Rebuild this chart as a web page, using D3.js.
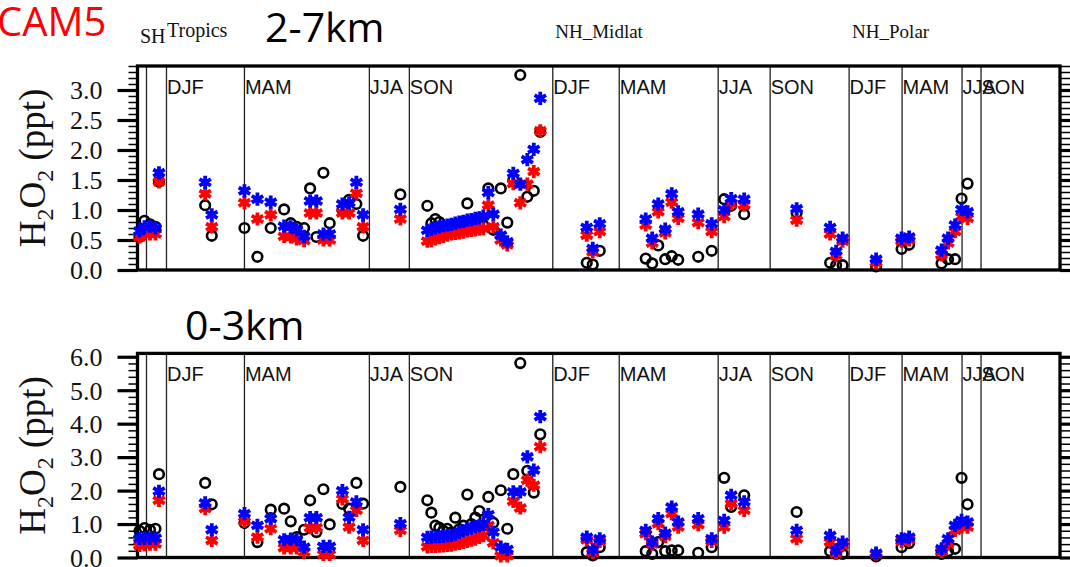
<!DOCTYPE html>
<html>
<head>
<meta charset="utf-8">
<script src="https://cdn.jsdelivr.net/npm/d3@7"></script>
<style>
  body { margin: 0; background: #fff; }
  svg { display: block; }
</style>
</head>
<body>
<svg id="chart" width="1070" height="567"></svg>
<script>
// Sample positions along the flight-sequence axis
const sampleX = [
  0.2, 0.7, 1.25, 1.8, 2.15, 6.77, 7.43, 10.7, 12.0, 13.33, 14.67, 15.33, 15.93, 16.67,
  17.27, 17.9, 18.6, 19.23, 20.5, 21.17, 21.9, 22.57, 26.3,
  29.0, 29.4, 29.8, 30.2, 30.6, 31.0, 31.4, 31.8, 32.2, 32.6, 33.0, 33.4, 33.8, 34.2, 34.6,
  35.1, 35.6, 36.35, 37.0, 37.6, 38.3, 39.0, 39.65, 40.3,
  44.95, 45.55, 46.25,
  50.85, 51.5, 52.1, 52.8, 53.45, 54.1, 56.1, 57.45,
  58.7, 59.4, 60.7,
  65.95, 69.3, 69.9, 70.55,
  73.9,
  76.45, 77.2, 80.45, 81.1, 81.8, 82.45, 83.05
];

// 2-7 km H2O2 (ppt)
const obsUpper = [
  0.55, 0.82, 0.76, 0.72, 1.47, 1.08, 0.57, 0.70, 0.22, 0.70, 1.01, 0.78, 0.72, 0.70,
  1.36, 0.55, 1.62, 0.78, 1.00, 1.17, 1.10, 0.57, 1.26,
  1.07, 0.78, 0.85, 0.80, 0.72, 0.70, 0.74, 0.73, 0.76, 0.80, 1.11, 0.78, 0.80, 0.79, 0.75,
  1.36, 0.67, 1.36, 0.79, 1.50, 3.25, 1.22, 1.32, 2.30,
  0.12, 0.09, 0.32,
  0.19, 0.11, 0.41, 0.18, 0.23, 0.17, 0.22, 0.32,
  1.18, 1.07, 0.93,
  0.95, 0.12, 0.08, 0.08,
  0.06,
  0.35, 0.42, 0.11, 0.18, 0.18, 1.19, 1.44
];
const redUpper = [
  0.55, 0.60, 0.60, 0.60, 1.47, 1.27, 0.72, 1.12, 0.85, 0.92, 0.56, 0.55, 0.52, 0.49,
  0.95, 0.95, 0.50, 0.50, 0.95, 0.95, 1.28, 0.72, 0.85,
  0.48, 0.49, 0.52, 0.54, 0.56, 0.58, 0.60, 0.61, 0.62, 0.63, 0.65, 0.66, 0.67, 0.68, 0.69,
  1.08, 0.72, 0.50, 0.42, 1.44, 1.12, 1.43, 1.64, 2.32,
  0.58, 0.30, 0.64,
  0.75, 0.45, 0.97, 0.62, 1.13, 0.86, 0.79, 0.64,
  0.89, 1.10, 1.08,
  0.83, 0.60, 0.24, 0.48,
  0.12,
  0.48, 0.50, 0.25, 0.45, 0.64, 0.89, 0.86
];
const blueUpper = [
  0.65, 0.72, 0.73, 0.70, 1.62, 1.46, 0.92, 1.32, 1.18, 1.13, 0.73, 0.72, 0.67, 0.56,
  1.15, 1.15, 0.60, 0.60, 1.10, 1.12, 1.46, 0.92, 1.01,
  0.66, 0.68, 0.70, 0.72, 0.74, 0.75, 0.76, 0.78, 0.80, 0.81, 0.83, 0.84, 0.86, 0.87, 0.90,
  1.29, 0.93, 0.58, 0.47, 1.61, 1.43, 1.84, 2.01, 2.86,
  0.71, 0.36, 0.77,
  0.85, 0.53, 1.10, 0.68, 1.27, 0.97, 0.93, 0.77,
  1.00, 1.19, 1.18,
  1.02, 0.71, 0.31, 0.53,
  0.18,
  0.53, 0.55, 0.33, 0.53, 0.75, 1.01, 0.97
];

// 0-3 km H2O2 (ppt)
const obsLower = [
  0.80, 0.88, 0.83, 0.86, 2.49, 2.23, 1.59, 1.03, 0.46, 1.43, 1.46, 1.08, 0.61, 0.83,
  1.71, 0.76, 2.04, 0.99, 1.60, 1.46, 2.23, 1.61, 2.11,
  1.71, 1.34, 0.95, 0.89, 0.80, 0.86, 0.75, 1.19, 0.85, 0.95, 1.88, 1.00, 1.19, 1.39, 0.95,
  1.81, 1.04, 2.01, 0.86, 2.49, 5.81, 2.59, 1.94, 3.68,
  0.16, 0.06, 0.31,
  0.19, 0.11, 0.46, 0.19, 0.21, 0.21, 0.14, 0.31,
  2.38, 1.51, 1.86,
  1.36, 0.19, 0.11, 0.11,
  0.03,
  0.31, 0.43, 0.11, 0.19, 0.26, 2.38, 1.59
];
const redLower = [
  0.36, 0.38, 0.40, 0.40, 1.71, 1.46, 0.51, 1.08, 0.61, 0.86, 0.29, 0.29, 0.29, 0.16,
  0.89, 0.89, 0.09, 0.09, 1.75, 0.91, 1.41, 0.51, 0.81,
  0.32, 0.33, 0.33, 0.34, 0.35, 0.36, 0.37, 0.40, 0.42, 0.45, 0.48, 0.52, 0.55, 0.60, 0.65,
  0.96, 0.44, 0.05, 0.05, 1.68, 1.48, 2.31, 2.16, 3.31,
  0.53, 0.15, 0.48,
  0.71, 0.40, 1.01, 0.63, 1.31, 0.91, 0.98, 0.48,
  0.91, 1.61, 1.41,
  0.56, 0.46, 0.12, 0.36,
  0.10,
  0.48, 0.53, 0.18, 0.41, 0.81, 0.91, 0.91
];
const blueLower = [
  0.57, 0.57, 0.58, 0.58, 1.98, 1.63, 0.83, 1.31, 0.96, 1.16, 0.53, 0.55, 0.53, 0.31,
  1.19, 1.19, 0.33, 0.33, 2.00, 1.20, 1.66, 0.83, 1.01,
  0.60, 0.61, 0.62, 0.62, 0.63, 0.65, 0.66, 0.70, 0.75, 0.80, 0.85, 0.88, 0.92, 0.95, 1.00,
  1.28, 0.76, 0.31, 0.24, 1.96, 1.96, 3.01, 2.61, 4.21,
  0.61, 0.23, 0.56,
  0.81, 0.46, 1.16, 0.73, 1.51, 1.06, 1.16, 0.56,
  1.11, 1.86, 1.66,
  0.81, 0.66, 0.21, 0.46,
  0.13,
  0.56, 0.61, 0.26, 0.56, 0.96, 1.11, 1.06
];

// Season boundaries and their labels
const seasonEdges  = [0.9, 2.9, 10.7, 23.2, 27.2, 41.55, 48.2, 58.1, 63.3, 71.2, 76.5, 82.5, 84.4];
const seasonLabels = ["", "DJF", "MAM", "JJA", "SON", "DJF", "MAM", "JJA", "SON", "DJF", "MAM", "JJA", "SON"];

// Region headings
const regionNames = ["NH_Midlat", "NH_Polar"];
const regionX = [41.8, 71.5];

const upperTicks = [0, 0.5, 1.0, 1.5, 2.0, 2.5, 3.0];
const lowerTicks = [0, 1, 2, 3, 4, 5, 6];

const svg = d3.select("#chart");
const x = d3.scaleLinear().domain([0, 92.3]).range([137.5, 1060]);

const serif = "'Liberation Serif', 'Times New Roman', serif";
const sans = "'Liberation Sans', Arial, sans-serif";

// six-armed asterisk, vertical arm plus two at ±30° from horizontal
const arm = 6.6;
const starPath = [90, 30, 150].map(a => {
  const r = a * Math.PI / 180;
  const dx = arm * Math.cos(r), dy = arm * Math.sin(r);
  return `M${-dx.toFixed(2)},${-dy.toFixed(2)}L${dx.toFixed(2)},${dy.toFixed(2)}`;
}).join("");

function drawPanel(opts) {
  const y = d3.scaleLinear().domain(opts.domain).range(opts.range);
  const top = opts.range[1], bottom = opts.range[0];
  const g = svg.append("g");

  // minor and major ticks, left and right
  const minorL = d3.axisLeft(y).tickValues(opts.minor).tickSize(9).tickFormat("");
  const minorR = d3.axisRight(y).tickValues(opts.minor).tickSize(12).tickFormat("");
  const majorL = d3.axisLeft(y).tickValues(opts.major).tickSize(20).tickPadding(15)
    .tickFormat(d3.format(".1f"));
  const majorR = d3.axisRight(y).tickValues(opts.major).tickSize(20).tickFormat("");

  [[minorL, 137.5, 1.5], [majorL, 137.5, 3.2], [minorR, 1060, 1.5], [majorR, 1060, 3.2]].forEach(([ax, px, w]) => {
    const a = g.append("g").attr("transform", `translate(${px},0)`).call(ax);
    a.select(".domain").remove();
    a.selectAll(".tick line").attr("stroke", "#000").attr("stroke-width", w);
    a.selectAll(".tick text")
      .attr("font-family", serif).attr("font-size", 26).attr("fill", "#111")
      .attr("dy", "0.34em");
  });

  // season dividers and names
  seasonEdges.forEach((s, i) => {
    g.append("line")
      .attr("x1", x(s)).attr("x2", x(s))
      .attr("y1", top).attr("y2", bottom)
      .attr("stroke", "#222").attr("stroke-width", 1.3);
    if (seasonLabels[i]) {
      g.append("text")
        .attr("x", x(s) + 0.5).attr("y", top + 28)
        .attr("font-family", sans).attr("font-size", 20).attr("fill", "#111")
        .text(seasonLabels[i]);
    }
  });

  // frame
  g.append("rect")
    .attr("x", 137.5).attr("y", top)
    .attr("width", 1060 - 137.5).attr("height", bottom - top)
    .attr("fill", "none").attr("stroke", "#000").attr("stroke-width", 3.3);

  // y title
  const t = g.append("text")
    .attr("transform", `translate(45,${(top + bottom) / 2}) rotate(-90)`)
    .attr("text-anchor", "middle")
    .attr("font-family", serif).attr("font-size", 37).attr("fill", "#111");
  t.append("tspan").text("H");
  t.append("tspan").attr("font-size", 24).attr("dy", 8).text("2");
  t.append("tspan").attr("dy", -8).text("O");
  t.append("tspan").attr("font-size", 24).attr("dy", 8).text("2");
  t.append("tspan").attr("dy", -8).text(" (ppt)");

  const pts = sampleX.map((sx, i) => ({ sx, obs: opts.obs[i], red: opts.red[i], blue: opts.blue[i] }));

  g.append("g").selectAll("circle").data(pts).join("circle")
    .attr("cx", d => x(d.sx)).attr("cy", d => y(d.obs)).attr("r", 4.8)
    .attr("fill", "none").attr("stroke", "#000").attr("stroke-width", 2.6);

  g.append("g").selectAll("path").data(pts).join("path")
    .attr("transform", d => `translate(${x(d.sx)},${y(d.red)})`)
    .attr("d", starPath).attr("stroke", "#ff0000").attr("stroke-width", 3.8).attr("fill", "none");

  g.append("g").selectAll("path").data(pts).join("path")
    .attr("transform", d => `translate(${x(d.sx)},${y(d.blue)})`)
    .attr("d", starPath).attr("stroke", "#0000ff").attr("stroke-width", 3.8).attr("fill", "none");
}

drawPanel({
  domain: [0, 3.4], range: [270, 66],
  major: upperTicks, minor: d3.range(0, 3.41, 0.1).map(v => +v.toFixed(1)),
  obs: obsUpper, red: redUpper, blue: blueUpper
});
drawPanel({
  domain: [0, 6.1], range: [557.5, 353.4],
  major: lowerTicks, minor: d3.range(0, 6.01, 0.2).map(v => +v.toFixed(1)),
  obs: obsLower, red: redLower, blue: blueLower
});

// headings
svg.append("text").attr("x", -3).attr("y", 36)
  .attr("font-family", "'Open Sans', sans-serif").attr("font-size", 40).attr("fill", "#ff0000")
  .text("CAM5");
svg.append("text").attr("x", 265).attr("y", 42)
  .attr("font-family", "'Open Sans', sans-serif").attr("font-size", 41).attr("fill", "#000")
  .text("2-7km");
svg.append("text").attr("x", 185).attr("y", 340)
  .attr("font-family", "'Open Sans', sans-serif").attr("font-size", 41).attr("fill", "#000")
  .text("0-3km");

svg.append("text").attr("x", x(0.25)).attr("y", 43)
  .attr("font-family", serif).attr("font-size", 20).attr("fill", "#111").text("SH");
svg.append("text").attr("x", x(2.95)).attr("y", 37)
  .attr("font-family", serif).attr("font-size", 20).attr("fill", "#111").text("Tropics");
regionNames.forEach((n, i) => {
  svg.append("text").attr("x", x(regionX[i])).attr("y", 38)
    .attr("font-family", serif).attr("font-size", 19).attr("fill", "#111").text(n);
});
</script>
</body>
</html>
